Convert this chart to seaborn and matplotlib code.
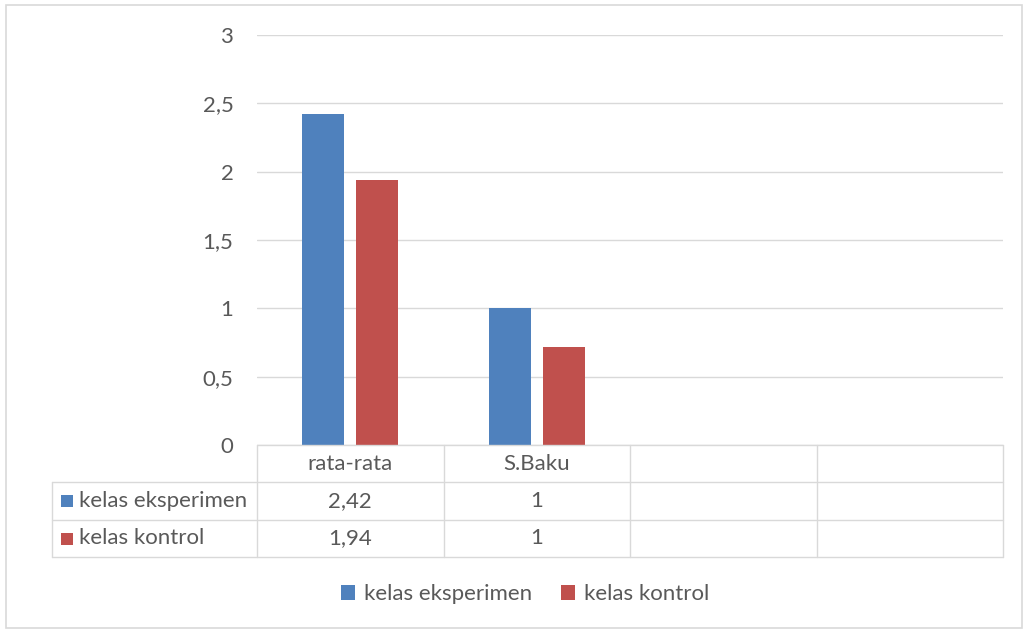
import matplotlib
matplotlib.use("Agg")
import matplotlib.pyplot as plt
import matplotlib.transforms as mtransforms
from matplotlib.patches import Rectangle
from matplotlib.lines import Line2D
from matplotlib.ticker import FuncFormatter, FixedLocator
import seaborn as sns
import pandas as pd

# --- data ---------------------------------------------------------------
kategori = ["rata-rata", "S.Baku"]
jumlah_kolom = 4                      # two extra empty columns in the data table
seri = ["kelas eksperimen", "kelas kontrol"]
nilai_eksperimen = [2.42, 1.0]
nilai_kontrol = [1.94, 0.72]
tabel_eksperimen = ["2,42", "1"]
tabel_kontrol = ["1,94", "1"]
y_ticks = [0, 0.5, 1, 1.5, 2, 2.5, 3]

warna = {"kelas eksperimen": "#4F81BD", "kelas kontrol": "#C0504D"}
abu_teks = "#595959"
abu_garis = "#D9D9D9"

df = pd.DataFrame({
    "kategori": kategori * 2,
    "kelas": [seri[0]] * len(kategori) + [seri[1]] * len(kategori),
    "nilai": nilai_eksperimen + nilai_kontrol,
})

# --- figure -------------------------------------------------------------
sns.set_theme(style="white")
plt.rcParams["font.family"] = ["Lato", "DejaVu Sans"]
FS = 16

W, H = 1025, 630
fig = plt.figure(figsize=(W / 100, H / 100), dpi=100)


def fx(px):
    return px / W


def fy(py):
    return 1 - py / H


ax = fig.add_axes([fx(257), fy(445), fx(1003) - fx(257), fy(35) - fy(445)])
sns.barplot(data=df, x="kategori", y="nilai", hue="kelas", order=kategori,
            hue_order=seri, palette=warna, saturation=1, width=0.574,
            gap=0.215, linewidth=0, ax=ax)

ax.set_xlim(-0.5, jumlah_kolom - 0.5)
ax.set_ylim(0, 3)
ax.yaxis.set_major_locator(FixedLocator(y_ticks))
ax.yaxis.set_major_formatter(FuncFormatter(lambda v, _: f"{v:g}".replace(".", ",")))
ax.tick_params(axis="y", length=0, pad=17, labelsize=FS, labelcolor=abu_teks)
ax.set_xticks([])
ax.set_xlabel("")
ax.set_ylabel("")
for s in ax.spines.values():
    s.set_visible(False)
ax.grid(axis="y", color=abu_garis, linewidth=1.0)
ax.set_axisbelow(True)

# legend below the table
handles, labels = ax.get_legend_handles_labels()
ax.get_legend().remove()
fig.legend(handles, labels, loc="center", bbox_to_anchor=(fx(525), fy(594)),
           ncol=2, frameon=False, fontsize=FS, labelcolor=abu_teks,
           handlelength=0.65, handleheight=0.65, handletextpad=0.4,
           columnspacing=1.3)

# --- data table under the axis -----------------------------------------
bt = mtransforms.blended_transform_factory(ax.transData, fig.transFigure)
ft = fig.transFigure
batas = [i - 0.5 for i in range(jumlah_kolom + 1)]
baris_y = [445, 482, 520, 557]
lw = 1.0

# header row top edge (follows the category axis)
fig.add_artist(Line2D([batas[0], batas[-1]], [fy(445)] * 2, transform=bt,
                      color=abu_garis, lw=lw))
for py in baris_y[1:]:
    fig.add_artist(Line2D([fx(52), fx(1003)], [fy(py)] * 2, transform=ft,
                          color=abu_garis, lw=lw))
for b in batas:
    fig.add_artist(Line2D([b, b], [fy(445), fy(557)], transform=bt,
                          color=abu_garis, lw=lw))
fig.add_artist(Line2D([fx(52)] * 2, [fy(482), fy(557)], transform=ft,
                      color=abu_garis, lw=lw))

pusat = [(a + b) / 2 for a, b in zip(baris_y[:-1], baris_y[1:])]
for i, k in enumerate(kategori):
    fig.text(i, fy(pusat[0]), k, transform=bt, ha="center", va="center",
             fontsize=FS, color=abu_teks)
    fig.text(i, fy(pusat[1]), tabel_eksperimen[i], transform=bt, ha="center",
             va="center", fontsize=FS, color=abu_teks)
    fig.text(i, fy(pusat[2]), tabel_kontrol[i], transform=bt, ha="center",
             va="center", fontsize=FS, color=abu_teks)

for nama, py in zip(seri, pusat[1:]):
    fig.add_artist(Rectangle((fx(61), fy(py + 6)), fx(12), 12 / H,
                             transform=ft, color=warna[nama], lw=0))
    fig.text(fx(79), fy(py), nama, ha="left", va="center", fontsize=FS,
             color=abu_teks)

# outer chart frame
fig.add_artist(Rectangle((fx(6), fy(628)), fx(1016), 623 / H, transform=ft,
                         fill=False, edgecolor=abu_garis, lw=1.2))

fig.savefig("out.png", dpi=100, facecolor="white")
